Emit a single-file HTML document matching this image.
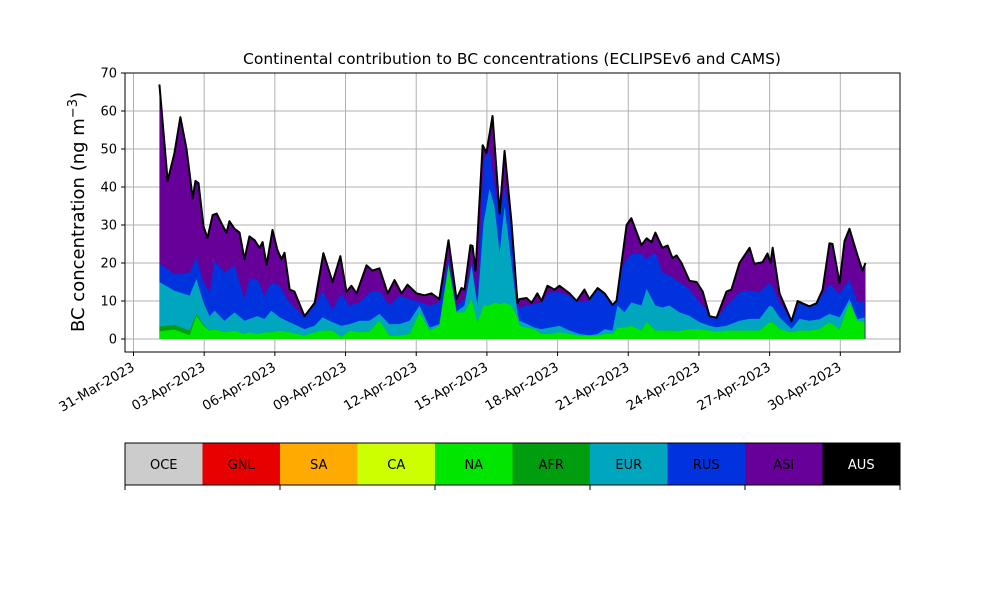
<!DOCTYPE html>
<html><head><meta charset="utf-8"><style>
body{margin:0;background:#fff}
svg{display:block;font-family:"DejaVu Sans","Liberation Sans",sans-serif}
</style></head><body>
<svg id="chart" width="1000" height="600" viewBox="0 0 1000 600">
<text x="512" y="64" text-anchor="middle" font-size="15.5">Continental contribution to BC concentrations (ECLIPSEv6 and CAMS)</text>
<text transform="translate(84,212) rotate(-90)" text-anchor="middle" font-size="18">BC concentration (ng m<tspan dy="-7" font-size="13">−3</tspan><tspan dy="7">)</tspan></text>
<g id="plot"></g>
<g id="legend"></g>
</svg>
<script>
const NS="http://www.w3.org/2000/svg";
// total (top black line) series, days since 31-Mar-2023 00:00
const totalDays=[1.10,1.45,1.74,1.99,2.25,2.38,2.51,2.63,2.76,2.97,3.14,3.36,3.53,3.77,3.95,4.07,4.29,4.50,4.71,4.92,5.14,5.35,5.48,5.65,5.90,6.11,6.28,6.41,6.63,6.83,7.26,7.69,8.06,8.45,8.78,9.04,9.25,9.47,9.89,10.14,10.44,10.79,11.08,11.38,11.63,12.01,12.35,12.65,12.98,13.37,13.71,13.92,14.05,14.30,14.39,14.52,14.82,14.98,15.24,15.54,15.75,16.04,16.30,16.38,16.68,16.90,17.14,17.32,17.57,17.87,18.08,18.51,18.81,19.14,19.35,19.70,20.00,20.33,20.50,20.93,21.13,21.56,21.78,21.99,22.15,22.45,22.67,22.88,23.05,23.26,23.60,23.90,24.16,24.45,24.75,25.17,25.38,25.72,26.15,26.35,26.70,26.91,27.04,27.13,27.42,27.93,28.19,28.39,28.69,28.99,29.25,29.54,29.67,29.97,30.18,30.39,30.73,30.94,31.07];
const totalVals=[67,41.6,49,58.4,50,43.7,37,41.6,41,29.7,26.6,32.6,33,30,28,31,29,28,21,27,26,24,25.5,19.5,28.7,23.4,21,22.7,13,12.5,6,9.5,22.6,15,21.8,12.4,14,12,19.4,18,18.6,12,15.5,12,14.3,12,11.5,12,10.5,26,10.5,13.4,13,24.7,24.5,18,51,49,58.7,33,49.5,31,9.5,10.5,10.8,9.5,12,10,14,13,14,12,10,13,10.5,13.4,12,9,10,30,31.8,24.7,26.5,25.5,28,24,24.6,21.3,22,20,15.3,15,12.5,6,5.6,12.5,13,20,24,19.8,20.2,22.5,20,24,12,4.7,10,9.4,8.6,9.4,13,25.2,25,14.7,25.8,29,22,18,20];
// layer contributions
const layerDays=[1.10,1.74,2.38,2.67,2.97,3.23,3.44,3.86,4.29,4.71,4.92,5.26,5.56,5.85,6.20,6.63,7.26,7.69,8.02,8.45,8.82,9.17,9.60,10.01,10.44,10.86,11.29,11.72,12.14,12.57,12.98,13.37,13.71,14.05,14.35,14.60,14.86,15.11,15.32,15.54,15.75,16.04,16.30,16.38,16.68,17.02,17.32,17.66,18.08,18.51,18.93,19.35,19.70,20.00,20.33,20.54,20.84,21.13,21.56,21.78,22.15,22.45,22.75,23.17,23.60,24.03,24.45,24.75,25.17,25.72,26.15,26.57,27.00,27.13,27.42,27.93,28.27,28.69,29.12,29.54,29.97,30.39,30.73,31.03];
const naVals=[2.0,2.5,1.0,6.1,3.5,2.2,2.6,1.8,2.2,1.3,1.75,1.3,1.75,1.75,2.2,1.75,0.9,1.75,2.2,2.2,0.5,2.2,1.75,1.9,4.8,0.9,0.9,1.3,7.0,2.2,3.5,19.0,7.0,7.0,10.5,4.4,8.8,8.8,9.6,9.2,9.6,8.8,5.7,3.5,3.0,2.6,1.3,1.3,1.75,1.3,0.9,0.9,0.9,1.3,1.3,3.0,3.0,3.5,2.2,4.4,2.2,2.2,2.2,2.1,2.6,2.6,2.2,1.9,2.2,2.2,2.2,2.2,4.4,4.4,2.6,1.75,2.2,2.2,2.6,4.4,2.6,9.6,4.8,4.4];
const afrVals=[1.3,1.2,1.2,0.5,0.3,0.1,0.1,0,0,0,0,0,0,0,0,0,0,0,0,0,0,0,0,0,0,0,0,0,0,0,0,0,0,0,0,0,0,0,0,0,0,0,0,0,0,0,0,0,0,0,0,0,0,0,0,0,0,0,0,0,0,0,0,0,0,0,0,0,0,0,0,0,0,0,0,0,0,0,0,0,0,0,0,0];
const eurVals=[11.7,9,9.2,9.2,5.8,3.7,4.8,3.0,4.8,3.5,3.5,4.7,3.5,5.7,3.5,2.65,1.7,1.75,3.5,2.2,3.0,1.7,3.05,2.9,1.8,3.0,3.0,3.5,1.8,0.8,0.4,0.7,0.2,1.8,8.8,4.4,21.9,30.7,25.3,13.6,25.3,11.2,1.0,1.3,1.0,0.4,1.3,1.7,1.75,0.9,0.4,0.1,0.4,1.3,0.9,5.8,4.0,6.1,6.6,8.8,6.6,6.1,6.6,4.9,3.5,1.8,1.3,1.2,1.3,2.6,3.1,3.1,4.4,4.0,3.1,0.9,3.1,2.6,2.6,2.2,3.1,0.9,0.4,1.3];
const rusVals=[5,4.3,6.1,5.7,5.4,6.3,13.1,12.7,12.3,5.7,10.7,9.8,6.1,7.5,8.3,5.2,3.1,5.3,7.0,3.5,8.5,4.9,4.8,7.5,6.1,4.9,7.5,5.7,0.9,5.8,5.7,1.3,1.6,1.7,1.7,1.7,16.3,10.5,6,10.2,5.1,11,1.7,3.5,4.8,6.2,7.0,9.3,8.8,9.2,8.4,9.2,11.8,9.2,6.6,6.2,13.2,12.8,13.6,7.9,14,9.2,7.9,8.0,7.0,5.3,3.5,2.2,5.3,7.5,7.5,7.0,6.1,5.3,4.0,2.2,4.4,4.0,5.3,7.9,6.2,5.3,4.4,4.4];
const yTicks=[0,10,20,30,40,50,60,70];
const xTickDays=[0,3,6,9,12,15,18,21,24,27,30];
const xTickLabels=["31-Mar-2023","03-Apr-2023","06-Apr-2023","09-Apr-2023","12-Apr-2023","15-Apr-2023","18-Apr-2023","21-Apr-2023","24-Apr-2023","27-Apr-2023","30-Apr-2023"];
const legendLabels=["OCE","GNL","SA","CA","NA","AFR","EUR","RUS","ASI","AUS"];
const legendColors=["#cccccc","#e60000","#ffaa00","#ccff00","#00e600","#009e0f","#00a5be","#0033dd","#660099","#000000"];

const L=125,R=900,T=73,B=352;
const X=d=>133.5+d*23.56;
const Y=v=>339-v*3.8;
function mk(tag,attrs,parent){const e=document.createElementNS(NS,tag);for(const k in attrs)e.setAttribute(k,attrs[k]);parent.appendChild(e);return e;}
const plot=document.getElementById('plot');
xTickDays.forEach((d,i)=>{
  const g=mk('line',{x1:X(d),x2:X(d),y1:T,y2:B,stroke:'#b0b0b0','stroke-width':1},plot);
  
  
});
yTicks.forEach(v=>{
  const g=mk('line',{x1:L,x2:R,y1:Y(v),y2:Y(v),stroke:'#b0b0b0','stroke-width':1},plot);
  
  
});
const defs=mk('defs',{},plot);
const cp=mk('clipPath',{id:'tot'},defs);
function areaPath(days,vals){let p='M'+X(days[0])+','+Y(0);days.forEach((d,i)=>{p+='L'+X(d).toFixed(2)+','+Y(vals[i]).toFixed(2);});p+='L'+X(days[days.length-1])+','+Y(0)+'Z';return p;}
mk('path',{d:areaPath(totalDays,totalVals)},cp);
const asi=mk('path',{d:areaPath(totalDays,totalVals),fill:'#660099'},plot);


const grp=mk('g',{'clip-path':'url(#tot)'},plot);
const cum1=[],cum2=[],cum3=[],cum4=[];
layerDays.forEach((d,i)=>{cum1.push(naVals[i]);cum2.push(naVals[i]+afrVals[i]);cum3.push(cum2[i]+eurVals[i]);cum4.push(cum3[i]+rusVals[i]);});
const rus=mk('path',{d:areaPath(layerDays,cum4),fill:'#0033dd'},grp);


const eur=mk('path',{d:areaPath(layerDays,cum3),fill:'#00a5be'},grp);


const afr=mk('path',{d:areaPath(layerDays,cum2),fill:'#009e0f'},grp);


const na=mk('path',{d:areaPath(layerDays,cum1),fill:'#00e600'},grp);


let lp='';totalDays.forEach((d,i)=>{lp+=(i?'L':'M')+X(d).toFixed(2)+','+Y(totalVals[i]).toFixed(2);});
const tl=mk('path',{d:lp,fill:'none',stroke:'#000','stroke-width':2,'stroke-linejoin':'round'},plot);


const fr=mk('rect',{x:L,y:T,width:R-L,height:B-T,fill:'none',stroke:'#000','stroke-width':1},plot);


yTicks.forEach(v=>{
  mk('line',{x1:L-4,x2:L,y1:Y(v),y2:Y(v),stroke:'#000'},plot);
  const t=mk('text',{x:L-8,y:Y(v)+4.5,'text-anchor':'end','font-size':13},plot);
  t.textContent=v;
  
  
});
xTickDays.forEach((d,i)=>{
  mk('line',{x1:X(d),x2:X(d),y1:B,y2:B+4,stroke:'#000'},plot);
  const t=mk('text',{transform:'translate('+(X(d)-3)+','+(B+9)+') rotate(-30)','text-anchor':'end','font-size':13.3,dy:'0.75em'},plot);
  t.textContent=xTickLabels[i];
  
  
});
const lg=document.getElementById('legend');
const cw=(R-L)/legendLabels.length;
legendLabels.forEach((lab,i)=>{
  const r=mk('rect',{x:L+i*cw,y:443,width:cw,height:42,fill:legendColors[i]},lg);
  
  
  const t=mk('text',{x:L+i*cw+cw/2,y:469,'text-anchor':'middle','font-size':13,fill:lab==='AUS'?'#fff':'#000'},lg);
  t.textContent=lab;
  
  
});
mk('rect',{x:L,y:443,width:R-L,height:42,fill:'none',stroke:'#000','stroke-width':1},lg);
for(let i=0;i<=5;i++){mk('line',{x1:L+i*(R-L)/5,x2:L+i*(R-L)/5,y1:485,y2:490,stroke:'#000'},lg);}
</script>
</body></html>
